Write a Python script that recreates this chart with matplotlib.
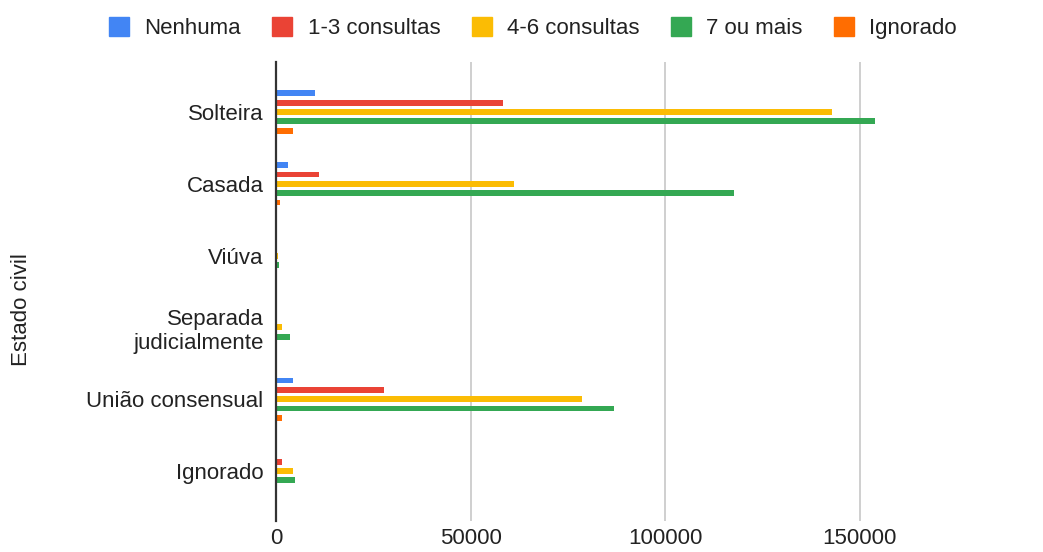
import numpy as np
import matplotlib.pyplot as plt
from matplotlib.patches import Patch

categories = ["Solteira", "Casada", "Viúva", "Separada\njudicialmente",
              "União consensual", "Ignorado"]
series = ["Nenhuma", "1-3 consultas", "4-6 consultas", "7 ou mais", "Ignorado"]
nenhuma = [10000, 3000, 50, 50, 4400, 300]
c1_3 = [58200, 11100, 300, 300, 27800, 1600]
c4_6 = [142900, 61100, 400, 1600, 78700, 4400]
c7_mais = [153800, 117700, 700, 3600, 86800, 5000]
ignorado = [4400, 1100, 20, 30, 1600, 200]
values = [nenhuma, c1_3, c4_6, c7_mais, ignorado]
colors = ["#4285F4", "#EA4335", "#FBBC04", "#34A853", "#FF6D01"]

plt.rcParams['font.family'] = ['Liberation Sans', 'DejaVu Sans']

fig = plt.figure(figsize=(10.43, 5.52), dpi=100)
ax = fig.add_axes([276 / 1043, 1 - 521 / 552, (1039 - 276) / 1043, (521 - 62) / 552])

y = np.arange(len(categories))
pitch = 0.13
for i, (vals, col) in enumerate(zip(values, colors)):
    ax.barh(y + (i - 2) * pitch, vals, height=0.082, color=col, zorder=3)

ax.set_xlim(0, 196000)
ax.set_ylim(5.696, -0.696)
ax.set_xticks([0, 50000, 100000, 150000])
ax.set_xticklabels(["0", "50000", "100000", "150000"])
ax.set_yticks(y)
ax.set_yticklabels(categories)
ax.tick_params(axis='both', length=0, labelsize=16, colors='#222222')
ax.tick_params(axis='x', pad=5)
ax.tick_params(axis='y', pad=9)
for lab in ax.get_yticklabels():
    lab.set_multialignment('right')

for x in [50000, 100000, 150000]:
    ax.axvline(x, color='#cccccc', lw=1.3, zorder=1)
for s in ['top', 'right', 'bottom']:
    ax.spines[s].set_visible(False)
ax.spines['left'].set_color('#333333')
ax.spines['left'].set_linewidth(1.6)
ax.spines['left'].set_zorder(4)

fig.text(22 / 1043, 1 - 310 / 552, "Estado civil", rotation=90, fontsize=16,
         ha='center', va='center', color='#222222')

handles = [Patch(facecolor=c, edgecolor=c, label=s) for c, s in zip(colors, series)]
fig.legend(handles=handles, loc='center', bbox_to_anchor=(533 / 1043, 1 - 28 / 552),
           ncol=5, frameon=False, fontsize=16, handlelength=0.9, handleheight=0.9,
           handletextpad=0.7, columnspacing=1.4, labelcolor='#222222')

fig.savefig("out.png", dpi=100)
